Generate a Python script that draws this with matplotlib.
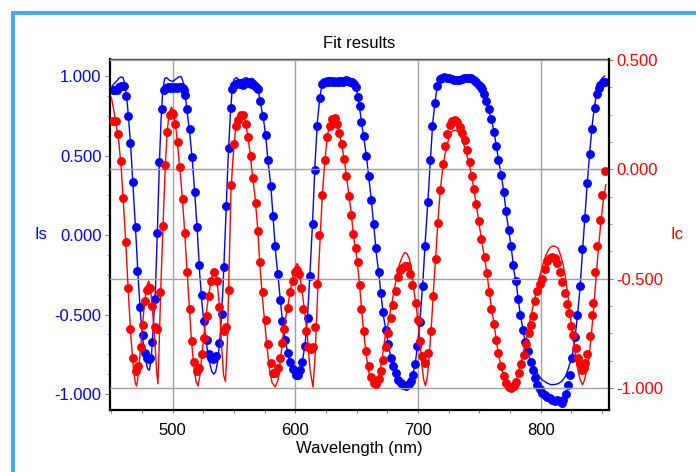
import matplotlib
matplotlib.use("Agg")
import matplotlib.pyplot as plt
from matplotlib.ticker import MultipleLocator, FormatStrFormatter
from matplotlib.patches import Rectangle

plt.rcParams['font.family'] = ['Liberation Sans', 'DejaVu Sans']

# measured Is (blue dots, left axis)
is_wl = [451.0, 452.5, 454.4, 456.0, 457.6, 459.0, 460.3, 462.2, 463.8, 465.6,
         467.7, 469.8, 471.1, 473.6, 475.6, 477.2, 479.0, 480.5, 481.7, 482.9,
         485.8, 487.4, 488.8, 491.3, 493.0, 494.5, 496.0, 497.5, 499.0, 500.5,
         502.0, 503.5, 505.0, 506.5, 508.0, 509.5, 510.3, 511.7, 514.0, 516.0,
         517.9, 520.0, 521.8, 523.6, 525.8, 528.0, 529.6, 531.3, 533.1, 535.5,
         538.0, 539.9, 541.8, 543.7, 545.6, 547.3, 548.6, 550.0, 551.5, 553.0,
         554.5, 556.0, 557.5, 559.0, 560.5, 562.0, 563.5, 565.0, 566.5, 568.0,
         569.8, 571.4, 573.8, 575.8, 577.4, 580.1, 581.7, 583.4, 585.8, 587.7,
         589.3, 591.8, 594.0, 595.6, 598.0, 600.2, 602.1, 604.0, 605.6, 607.8,
         610.0, 611.7, 614.1, 615.7, 617.6, 620.0, 621.7, 623.5, 625.0, 626.5,
         628.0, 629.5, 631.0, 632.5, 634.0, 635.5, 637.0, 638.5, 640.0, 641.5,
         643.0, 644.5, 646.0, 647.5, 649.0, 651.0, 652.4, 653.7, 655.7, 657.8,
         659.7, 661.9, 663.8, 665.4, 667.9, 669.5, 671.4, 673.6, 675.7, 677.7,
         679.8, 682.0, 683.9, 685.8, 688.0, 690.2, 692.3, 694.0, 695.8, 697.7,
         699.3, 701.5, 703.7, 705.6, 708.1, 710.0, 711.6, 714.0, 715.7, 717.6,
         719.5, 721.5, 723.5, 725.5, 727.5, 729.5, 731.5, 733.5, 735.5, 737.5,
         739.5, 741.5, 743.5, 745.5, 747.5, 749.5, 751.2, 752.3, 753.5, 755.2,
         757.5, 759.7, 761.9, 763.7, 765.4, 767.8, 769.8, 771.4, 773.8, 775.7,
         777.3, 779.8, 781.4, 783.3, 785.5, 787.1, 789.3, 791.8, 793.6, 795.5,
         797.1, 799.1, 801.2, 803.4, 805.3, 807.2, 809.4, 811.3, 813.2, 815.4,
         817.0, 818.1, 820.3, 822.2, 824.0, 825.7, 827.6, 829.7, 832.2, 833.8,
         835.8, 837.9, 839.8, 841.5, 844.2, 845.8, 847.2, 848.5, 850.7, 852.3]
is_val = [0.915, 0.91, 0.915, 0.93, 0.935, 0.935, 0.935, 0.875, 0.75, 0.58,
          0.335, 0.05, -0.225, -0.455, -0.63, -0.74, -0.775, -0.78, -0.77, -0.67,
          -0.40, 0.01, 0.46, 0.79, 0.915, 0.925, 0.93, 0.925, 0.93, 0.925,
          0.93, 0.925, 0.93, 0.93, 0.925, 0.91, 0.88, 0.79, 0.67, 0.49,
          0.27, 0.05, -0.19, -0.38, -0.54, -0.66, -0.75, -0.77, -0.78, -0.76,
          -0.68, -0.495, -0.20, 0.18, 0.55, 0.80, 0.92, 0.945, 0.95, 0.955,
          0.95, 0.955, 0.945, 0.955, 0.96, 0.955, 0.95, 0.955, 0.945, 0.93,
          0.92, 0.84, 0.75, 0.63, 0.475, 0.31, 0.12, -0.07, -0.245, -0.41,
          -0.54, -0.66, -0.74, -0.80, -0.84, -0.88, -0.88, -0.85, -0.80, -0.70,
          -0.52, -0.26, 0.07, 0.41, 0.685, 0.86, 0.95, 0.96, 0.965, 0.96,
          0.97, 0.965, 0.97, 0.965, 0.96, 0.965, 0.97, 0.965, 0.97, 0.975,
          0.97, 0.965, 0.96, 0.95, 0.93, 0.87, 0.81, 0.71, 0.62, 0.50,
          0.37, 0.22, 0.07, -0.08, -0.23, -0.365, -0.485, -0.595, -0.685, -0.77,
          -0.825, -0.87, -0.91, -0.93, -0.945, -0.95, -0.935, -0.915, -0.88, -0.81,
          -0.70, -0.545, -0.32, -0.07, 0.21, 0.47, 0.685, 0.83, 0.94, 0.98,
          0.99, 0.995, 0.99, 0.985, 0.98, 0.975, 0.975, 0.975, 0.98, 0.985,
          0.99, 0.99, 0.985, 0.975, 0.965, 0.945, 0.93, 0.92, 0.885, 0.845,
          0.79, 0.73, 0.65, 0.56, 0.475, 0.38, 0.27, 0.15, 0.03, -0.07,
          -0.19, -0.29, -0.40, -0.50, -0.595, -0.675, -0.73, -0.80, -0.85, -0.90,
          -0.94, -0.97, -0.99, -1.005, -1.02, -1.025, -1.035, -1.045, -1.035, -1.045,
          -1.055, -1.035, -1.00, -0.94, -0.88, -0.775, -0.64, -0.50, -0.32, -0.09,
          0.11, 0.33, 0.51, 0.67, 0.80, 0.885, 0.925, 0.945, 0.96, 0.965]

# fitted Is (blue line)
is_fit_wl = [450, 452, 454, 456, 458, 459.5, 461, 462.5, 464, 466,
             468, 470, 472, 474, 476, 478, 479.5, 481, 482.5, 484,
             486, 487.5, 489, 490.5, 492, 493.5, 495, 497, 500, 502.5,
             505, 507, 509, 510.5, 512, 514, 516, 518, 520, 522,
             524, 526, 528, 530, 532, 533.5, 535, 537, 539, 541,
             543, 545, 547, 548.5, 550, 552, 554, 556, 558, 560,
             562, 564, 566, 568, 570, 572, 574, 576, 578, 580,
             582, 584, 586, 588, 590, 592, 594, 596, 598, 600,
             602, 604, 606, 608, 610, 612, 614, 616, 618, 620,
             622, 624, 627, 630, 633, 636, 639, 642, 645, 648,
             650, 652, 654, 656, 658, 660, 662, 664, 666, 668,
             670, 672, 674, 676, 678, 680, 682, 684, 686, 688,
             690, 692, 694, 696, 698, 700, 702, 704, 706, 708,
             710, 712, 714, 716, 718, 720, 724, 728, 732, 736,
             740, 744, 748, 751, 753, 755, 757, 760, 762, 764,
             766, 768, 770, 772, 774, 776, 778, 780, 782, 784,
             786, 788, 790, 792, 794, 796, 798, 800, 802, 805,
             808, 811, 814, 817, 820, 822, 824, 826, 828, 830,
             832, 834, 836, 838, 840, 842, 844, 846, 848, 850, 852]
is_fit = [0.93, 0.95, 0.965, 0.985, 0.995, 0.99, 0.95, 0.87, 0.74, 0.53,
          0.27, 0.0, -0.29, -0.52, -0.68, -0.79, -0.84, -0.85, -0.78, -0.60,
          -0.33, 0.02, 0.42, 0.72, 0.92, 0.985, 0.99, 0.975, 0.965, 0.98,
          0.995, 0.995, 0.95, 0.86, 0.76, 0.63, 0.47, 0.26, 0.03, -0.24,
          -0.44, -0.59, -0.71, -0.80, -0.86, -0.875, -0.86, -0.78, -0.60, -0.33,
          0.05, 0.45, 0.76, 0.92, 0.98, 0.99, 0.975, 0.975, 0.985, 0.99,
          0.98, 0.985, 0.98, 0.95, 0.90, 0.81, 0.73, 0.61, 0.44, 0.31,
          0.09, -0.12, -0.27, -0.43, -0.58, -0.67, -0.75, -0.82, -0.86, -0.89,
          -0.895, -0.86, -0.78, -0.68, -0.50, -0.22, 0.08, 0.45, 0.72, 0.87,
          0.96, 0.985, 0.99, 0.98, 0.985, 0.99, 0.985, 0.99, 0.985, 0.96,
          0.91, 0.82, 0.70, 0.60, 0.49, 0.35, 0.21, 0.05, -0.12, -0.24,
          -0.39, -0.52, -0.61, -0.70, -0.78, -0.83, -0.875, -0.91, -0.935, -0.95,
          -0.955, -0.94, -0.915, -0.87, -0.79, -0.66, -0.49, -0.28, -0.02, 0.21,
          0.47, 0.71, 0.85, 0.95, 0.985, 0.995, 0.99, 0.98, 0.975, 0.985,
          0.99, 0.985, 0.96, 0.93, 0.89, 0.85, 0.80, 0.72, 0.645, 0.55,
          0.45, 0.37, 0.26, 0.13, 0.02, -0.08, -0.22, -0.30, -0.43, -0.53,
          -0.62, -0.69, -0.755, -0.80, -0.82, -0.85, -0.88, -0.90, -0.915, -0.93,
          -0.94, -0.94, -0.935, -0.92, -0.89, -0.85, -0.80, -0.74, -0.64, -0.50,
          -0.33, -0.10, 0.12, 0.34, 0.53, 0.70, 0.82, 0.91, 0.96, 0.985, 1.0]

# measured Ic (red dots, right axis)
ic_wl = [451.5, 453.5, 455.7, 457.6, 459.4, 461.7, 463.6, 465.4, 467.9, 470.1,
         471.5, 473.9, 475.6, 477.2, 478.8, 480.4, 481.7, 483.4, 485.7, 487.4,
         489.6, 492.1, 494.0, 495.6, 497.4, 499.2, 500.5, 502.1, 504.1, 505.7,
         508.4, 509.8, 511.7, 513.9, 515.7, 517.3, 519.8, 521.4, 523.6, 525.8,
         527.7, 529.6, 531.5, 533.7, 535.9, 537.7, 541.6, 543.7, 545.6, 547.5,
         550.2, 551.6, 553.5, 555.4, 557.0, 559.5, 561.6, 563.6, 565.2, 567.9,
         569.8, 571.0, 574.0, 575.8, 577.4, 580.1, 581.5, 583.6, 586.1, 587.7,
         589.1, 590.9, 593.7, 595.8, 597.8, 599.6, 601.5, 602.9, 604.5, 606.4,
         608.4, 610.3, 612.5, 614.6, 616.0, 617.9, 619.6, 622.0, 623.9, 626.0,
         628.0, 629.9, 632.0, 634.0, 635.6, 637.8, 639.6, 641.5, 643.7, 645.6,
         647.0, 649.0, 651.0, 652.4, 653.7, 655.7, 657.8, 659.7, 661.9, 663.8,
         665.9, 667.9, 670.0, 671.4, 673.6, 675.7, 677.7, 679.8, 681.8, 683.6,
         685.3, 687.2, 689.1, 691.0, 693.2, 695.1, 698.1, 700.0, 701.4, 703.5,
         705.4, 708.1, 710.3, 712.2, 714.3, 716.2, 717.6, 720.3, 722.2, 723.6,
         725.8, 727.7, 729.8, 731.7, 733.9, 735.8, 737.9, 739.8, 742.0, 743.8,
         745.8, 747.4, 749.4, 751.5, 754.3, 756.2, 757.9, 759.7, 761.9, 763.7,
         765.1, 767.8, 769.8, 771.9, 774.1, 776.0, 778.2, 780.0, 782.0, 784.1,
         786.1, 788.2, 790.1, 792.0, 793.6, 795.0, 797.1, 799.1, 800.9, 803.1,
         805.3, 807.2, 809.4, 811.3, 813.2, 815.9, 817.5, 819.5, 821.4, 823.0,
         824.9, 826.3, 828.4, 830.3, 831.7, 833.3, 835.0, 835.8, 837.6, 839.8,
         841.5, 842.5, 844.2, 846.1, 848.0, 850.1, 852.0]
ic_val = [0.22, 0.22, 0.16, 0.04, -0.13, -0.333, -0.54, -0.73, -0.86, -0.92,
          -0.90, -0.81, -0.71, -0.60, -0.55, -0.54, -0.54, -0.625, -0.72, -0.73,
          -0.56, -0.26, 0.02, 0.17, 0.25, 0.26, 0.255, 0.21, 0.125, 0.01,
          -0.135, -0.29, -0.47, -0.64, -0.785, -0.88, -0.92, -0.91, -0.845, -0.77,
          -0.67, -0.58, -0.51, -0.47, -0.51, -0.63, -0.74, -0.72, -0.55, -0.07,
          0.115, 0.20, 0.225, 0.25, 0.25, 0.21, 0.15, 0.06, -0.04, -0.155,
          -0.28, -0.425, -0.56, -0.69, -0.80, -0.885, -0.93, -0.93, -0.91, -0.86,
          -0.795, -0.73, -0.635, -0.56, -0.51, -0.47, -0.46, -0.48, -0.54, -0.64,
          -0.74, -0.81, -0.82, -0.81, -0.72, -0.525, -0.30, -0.115, 0.045, 0.15,
          0.20, 0.23, 0.235, 0.21, 0.165, 0.115, 0.05, -0.03, -0.12, -0.21,
          -0.295, -0.36, -0.425, -0.53, -0.64, -0.74, -0.83, -0.90, -0.95, -0.975,
          -0.98, -0.96, -0.92, -0.87, -0.81, -0.75, -0.68, -0.62, -0.555, -0.49,
          -0.46, -0.45, -0.44, -0.44, -0.48, -0.53, -0.61, -0.69, -0.785, -0.855,
          -0.885, -0.84, -0.74, -0.58, -0.41, -0.245, -0.095, 0.025, 0.105, 0.16,
          0.205, 0.22, 0.225, 0.215, 0.195, 0.165, 0.135, 0.09, 0.035, -0.03,
          -0.09, -0.16, -0.235, -0.32, -0.40, -0.475, -0.56, -0.64, -0.705, -0.78,
          -0.84, -0.90, -0.945, -0.975, -0.995, -1.0, -0.99, -0.97, -0.93, -0.89,
          -0.85, -0.80, -0.75, -0.71, -0.67, -0.60, -0.555, -0.525, -0.50, -0.455,
          -0.42, -0.405, -0.40, -0.405, -0.43, -0.47, -0.515, -0.565, -0.615, -0.655,
          -0.715, -0.755, -0.815, -0.86, -0.89, -0.915, -0.91, -0.885, -0.845, -0.76,
          -0.665, -0.61, -0.47, -0.35, -0.23, -0.117, -0.007]

# fitted Ic (red line)
ic_fit_wl = [450, 452, 454, 456, 458, 460, 462, 464, 466, 468,
             469.5, 470.5, 471.5, 473, 475, 477, 479, 480.5, 482, 483.5,
             485.5, 487, 488, 489, 490.2, 491.5, 492.5, 494, 495.5, 497,
             499, 501, 503, 505, 507, 509, 511, 513, 515, 517,
             519, 520.6, 522, 524, 526, 528, 530, 532, 534, 536,
             538, 540, 541.5, 543, 544.5, 546, 547.5, 549, 551, 553,
             555, 557, 559, 561, 563, 565, 567, 569, 571, 573,
             575, 577, 579, 581, 583.5, 586, 588, 590, 592, 594,
             596, 598, 600, 601.5, 603, 604.5, 606, 608, 610, 612,
             614.4, 616, 617.5, 619, 620.3, 622, 624, 626, 628, 630,
             632, 634, 636, 638, 640, 642, 644, 646, 648, 650,
             652, 654, 656, 658, 660, 662, 664.5, 667, 669, 671,
             673, 675, 677, 679, 681, 683, 685, 687, 689, 691,
             693, 695, 697, 699, 701, 703, 704.5, 706, 707.5, 709,
             711, 713, 714.5, 716, 718, 720, 722, 724, 726, 728,
             730, 732, 734, 736, 738, 740, 742, 744, 746, 748,
             750, 752, 754, 756, 758, 760, 762, 764, 766, 768,
             770, 772, 774, 776, 778, 780, 782, 784, 786, 788,
             790, 792, 794, 796, 798, 800, 802, 804, 806, 808,
             810, 812, 814, 816, 818, 820, 822, 824, 826, 828,
             830, 832, 834, 835.5, 837, 839, 841, 843, 845, 847,
             849, 851, 853]
ic_fit = [0.33, 0.27, 0.20, 0.13, 0.01, -0.17, -0.36, -0.58, -0.77, -0.91,
          -0.975, -0.99, -0.96, -0.87, -0.74, -0.61, -0.53, -0.51, -0.55, -0.64,
          -0.79, -0.93, -0.98, -0.80, -0.56, -0.35, -0.20, 0.02, 0.17, 0.255,
          0.285, 0.255, 0.17, 0.05, -0.07, -0.22, -0.40, -0.58, -0.76, -0.89,
          -0.97, -0.99, -0.95, -0.84, -0.73, -0.63, -0.55, -0.49, -0.46, -0.50,
          -0.62, -0.82, -0.94, -0.97, -0.80, -0.45, -0.10, 0.04, 0.17, 0.23,
          0.255, 0.255, 0.22, 0.16, 0.08, -0.03, -0.12, -0.25, -0.43, -0.58,
          -0.70, -0.82, -0.92, -0.975, -0.995, -0.96, -0.86, -0.76, -0.68, -0.62,
          -0.55, -0.49, -0.445, -0.43, -0.45, -0.52, -0.58, -0.67, -0.78, -0.92,
          -0.995, -0.86, -0.66, -0.45, -0.305, -0.11, 0.04, 0.15, 0.21, 0.235,
          0.235, 0.21, 0.16, 0.105, 0.04, -0.05, -0.13, -0.23, -0.33, -0.40,
          -0.51, -0.64, -0.76, -0.86, -0.93, -0.975, -0.995, -0.97, -0.92, -0.85,
          -0.77, -0.72, -0.66, -0.60, -0.535, -0.48, -0.43, -0.40, -0.38, -0.385,
          -0.41, -0.47, -0.57, -0.65, -0.76, -0.89, -0.96, -0.99, -0.95, -0.86,
          -0.70, -0.51, -0.39, -0.25, -0.10, 0.0, 0.07, 0.12, 0.16, 0.175,
          0.18, 0.175, 0.16, 0.135, 0.10, 0.06, 0.015, -0.04, -0.11, -0.18,
          -0.26, -0.33, -0.40, -0.47, -0.56, -0.64, -0.71, -0.79, -0.86, -0.91,
          -0.95, -0.98, -0.995, -1.0, -0.99, -0.96, -0.92, -0.88, -0.83, -0.78,
          -0.72, -0.67, -0.62, -0.57, -0.52, -0.47, -0.43, -0.395, -0.37, -0.355,
          -0.35, -0.352, -0.36, -0.39, -0.43, -0.49, -0.57, -0.67, -0.76, -0.84,
          -0.91, -0.96, -0.985, -0.965, -0.93, -0.875, -0.77, -0.64, -0.50, -0.36,
          -0.24, -0.14, -0.07]

left_ticks = [-1.0, -0.5, 0.0, 0.5, 1.0]
right_ticks = [-1.0, -0.5, 0.0, 0.5]


def main():
    fig = plt.figure(figsize=(6.96, 4.72), dpi=100)
    ax = fig.add_axes([110/696, 1-410/472, 499/696, 351/472])
    ax2 = ax.twinx()

    ax.plot(is_wl, is_val, 'o', color='blue', ms=6.4, mec='blue', mew=0)
    ax.plot(is_fit_wl, is_fit, '-', color='blue', lw=1)
    ax2.plot(ic_wl, ic_val, 'o', color='red', ms=6.4, mec='red', mew=0)
    ax2.plot(ic_fit_wl, ic_fit, '-', color='red', lw=1)

    ax.set_xlim(448.9, 855.6)
    ax.set_ylim(-1.10, 1.107)
    ax2.set_ylim(-1.10, 0.505)

    ax.xaxis.set_major_locator(MultipleLocator(100))
    ax.xaxis.set_minor_locator(MultipleLocator(25))
    ax.set_yticks(left_ticks)
    ax.yaxis.set_minor_locator(MultipleLocator(0.125))
    ax2.set_yticks(right_ticks)
    ax2.yaxis.set_minor_locator(MultipleLocator(0.125))
    ax.yaxis.set_major_formatter(FormatStrFormatter('%.3f'))
    ax2.yaxis.set_major_formatter(FormatStrFormatter('%.3f'))

    ax.tick_params(axis='x', which='both', direction='out', length=2.2, width=0.8,
                   color='#808080', labelsize=12, pad=7)
    ax.tick_params(axis='y', which='major', direction='out', length=3.6, width=0.8,
                   color='#808080', labelcolor='blue', labelsize=12, pad=2.4)
    ax.tick_params(axis='y', which='minor', direction='out', length=2, width=0.8,
                   color='#a0a0a0')
    ax2.tick_params(axis='y', which='major', direction='out', length=3, width=0.8,
                    color='#808080', labelcolor='red', labelsize=12, pad=2.4)
    ax2.tick_params(axis='y', which='minor', direction='out', length=2, width=0.8,
                    color='#a0a0a0')

    ax.set_axisbelow(True)
    ax2.set_axisbelow(True)
    ax.grid(axis='x', which='major', color='#a0a0a0', lw=1)
    ax2.grid(axis='y', which='major', color='#a0a0a0', lw=1)

    for s in ['left', 'bottom']:
        ax.spines[s].set_linewidth(1.6)
        ax.spines[s].set_color('black')
    ax.spines['top'].set_linewidth(1)
    ax.spines['top'].set_color('#404040')
    ax.spines['right'].set_visible(False)
    for s in ['left', 'bottom', 'top']:
        ax2.spines[s].set_visible(False)
    ax2.spines['right'].set_linewidth(1.6)
    ax2.spines['right'].set_color('black')

    ax.set_title('Fit results', fontsize=12, pad=8)
    ax.set_xlabel('Wavelength (nm)', fontsize=12, labelpad=2)
    ax.set_ylabel('Is', rotation=0, color='blue', fontsize=12, va='center', ha='center')
    ax.yaxis.set_label_coords(-0.138, 0.50)
    ax2.set_ylabel('Ic', rotation=0, color='red', fontsize=12, va='center', ha='center')
    ax2.yaxis.set_label_coords(1.136, 0.50)

    # light blue frame on the top and left edge
    fig.add_artist(Rectangle((11/696, 0), 4/696, 461/472, transform=fig.transFigure,
                             color='#4da6ff', lw=0))
    fig.add_artist(Rectangle((11/696, 1-15/472), 1-11/696, 4/472, transform=fig.transFigure,
                             color='#4da6ff', lw=0))

    plt.savefig('out.png', dpi=100)


if __name__ == '__main__':
    main()
